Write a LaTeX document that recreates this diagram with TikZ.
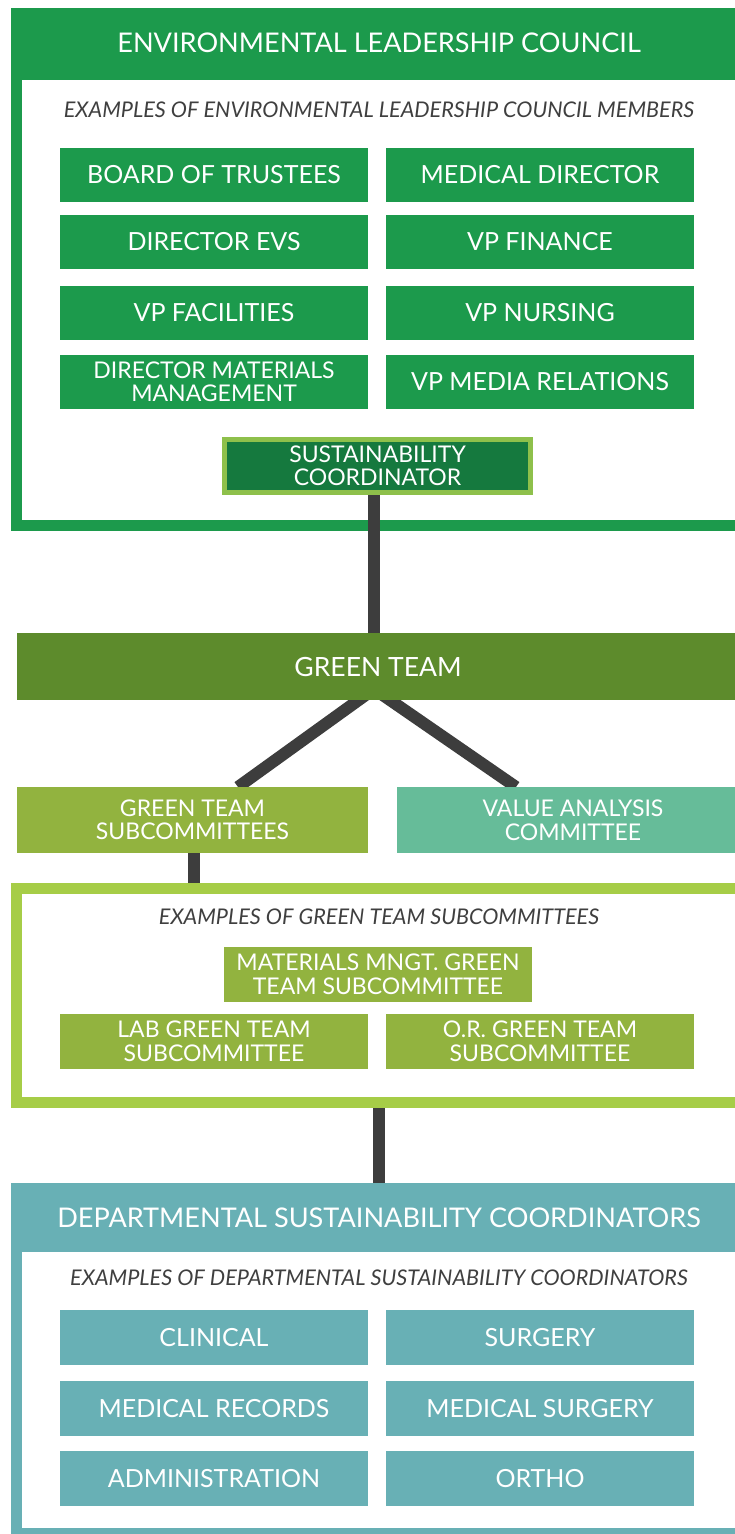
\documentclass[tikz,border=0pt]{standalone}
\usepackage{fontspec}
\setmainfont{Lato}
\definecolor{elc}{HTML}{1C9A4C}
\definecolor{coordfill}{HTML}{15793E}
\definecolor{coordline}{HTML}{8EC04B}
\definecolor{gteam}{HTML}{5D8B2C}
\definecolor{olive}{HTML}{92B33F}
\definecolor{valc}{HTML}{66BC99}
\definecolor{frtwo}{HTML}{A6CD47}
\definecolor{teal}{HTML}{68B0B5}
\definecolor{conn}{HTML}{3D3D3D}
\definecolor{itxt}{HTML}{3F3F3F}
\pgfdeclarelayer{back}
\pgfdeclarelayer{mid}
\pgfsetlayers{back,mid,main}
\begin{document}
\begin{tikzpicture}[x=1pt,y=-1pt,
  frame/.style={draw=#1, line width=11pt, inner sep=0pt, outer sep=0pt, fill=white},
  mbox/.style={fill=#1, text=white, minimum width=308pt, minimum height=54pt,
    inner sep=0pt, outer sep=0pt, align=center, font=\fontsize{25}{24}\selectfont},
  mtwo/.style={mbox=#1, font=\fontsize{23}{23.5}\selectfont},
  title/.style={text=white, inner sep=0pt, font=\fontsize{27.1}{30}\selectfont},
  subt/.style={text=itxt, inner sep=0pt, font=\fontsize{21.6}{24}\selectfont\itshape},
  link/.style={draw=conn, line width=12pt}
]
\useasboundingbox (0,0) rectangle (735,1534);

% ---------- frames ----------
\begin{pgfonlayer}{back}
\fill[white] (0,0) rectangle (735,1534);
\node[frame=elc, minimum width=763.5pt, minimum height=512pt, anchor=north west] (f1) at (16.5,13.5) {};
\fill[elc] (11,8) rectangle (780,80);
\node[frame=frtwo, minimum width=763.5pt, minimum height=214pt, anchor=north west] (f2) at (16.5,888.5) {};
\node[frame=teal, minimum width=763.5pt, minimum height=345pt, anchor=north west] (f3) at (16.5,1188.5) {};
\fill[teal] (11,1183) rectangle (780,1252);
\end{pgfonlayer}

% ---------- top council ----------
\node[title] (t1) at (379,43) {ENVIRONMENTAL LEADERSHIP COUNCIL};
\node[subt] (s1) at (379,110) {EXAMPLES OF ENVIRONMENTAL LEADERSHIP COUNCIL MEMBERS};

\node[mbox=elc] (bt) at (214,174.5) {BOARD OF TRUSTEES};
\node[mbox=elc] (md) at (540,174.5) {MEDICAL DIRECTOR};
\node[mbox=elc] (de) at (214,241.5) {DIRECTOR EVS};
\node[mbox=elc] (vf) at (540,241.5) {VP FINANCE};
\node[mbox=elc] (vfac) at (214,312.5) {VP FACILITIES};
\node[mbox=elc] (vn) at (540,312.5) {VP NURSING};
\node[mtwo=elc] (dm) at (214,382) {DIRECTOR MATERIALS\\MANAGEMENT};
\node[mbox=elc] (vm) at (540,382) {VP MEDIA RELATIONS};

\node[fill=coordfill, draw=coordline, line width=5pt, minimum width=306pt, minimum height=53pt,
  inner sep=0pt, outer sep=0pt, text=white, align=center, font=\fontsize{23}{22.5}\selectfont]
  (sc) at (377.5,466) {SUSTAINABILITY\\COORDINATOR};

% ---------- green team ----------
\node[fill=gteam, minimum width=763pt, minimum height=67pt, inner sep=0pt, outer sep=0pt,
  anchor=north west] (gt) at (17,633) {};
\node[title, font=\fontsize{26.5}{30}\selectfont] (gtt) at (378,666.5) {GREEN TEAM};

\node[mtwo=olive, minimum width=351pt, minimum height=66pt] (gts) at (192.5,820)
  {GREEN TEAM\\SUBCOMMITTEES};
\node[fill=valc, minimum width=383pt, minimum height=66pt, inner sep=0pt, outer sep=0pt,
  anchor=north west] (va) at (397,787) {};
\node[text=white, align=center, inner sep=0pt, font=\fontsize{23}{23.5}\selectfont] (vat) at (573,820)
  {VALUE ANALYSIS\\COMMITTEE};

% ---------- subcommittees ----------
\node[subt] (s2) at (379,917) {EXAMPLES OF GREEN TEAM SUBCOMMITTEES};
\node[mtwo=olive, minimum height=55pt] (mm) at (378,974.5) {MATERIALS MNGT. GREEN\\TEAM SUBCOMMITTEE};
\node[mtwo=olive, minimum height=55pt] (lab) at (214,1041.5) {LAB GREEN TEAM\\SUBCOMMITTEE};
\node[mtwo=olive, minimum height=55pt] (orr) at (540,1041.5) {O.R. GREEN TEAM\\SUBCOMMITTEE};

% ---------- departmental ----------
\node[title] (t3) at (379,1218) {DEPARTMENTAL SUSTAINABILITY COORDINATORS};
\node[subt] (s3) at (379,1278) {EXAMPLES OF DEPARTMENTAL SUSTAINABILITY COORDINATORS};
\node[mbox=teal, minimum height=55pt] (cl) at (214,1337.5) {CLINICAL};
\node[mbox=teal, minimum height=55pt] (su) at (540,1337.5) {SURGERY};
\node[mbox=teal, minimum height=55pt] (mr) at (214,1408.5) {MEDICAL RECORDS};
\node[mbox=teal, minimum height=55pt] (ms) at (540,1408.5) {MEDICAL SURGERY};
\node[mbox=teal, minimum height=55pt] (ad) at (214,1478.5) {ADMINISTRATION};
\node[mbox=teal, minimum height=55pt] (or) at (540,1478.5) {ORTHO};

% ---------- connectors ----------
\coordinate (apex) at (374,689);
\coordinate (gtsin) at (238,787);
\coordinate (vain) at (516,787);
\coordinate (f2top) at (194,883);
\coordinate (f2bot) at (378.5,1108);
\coordinate (f3top) at (378.5,1183);
\begin{pgfonlayer}{mid}
\draw[link] ([xshift=-3.5pt]sc.south) -- ([xshift=-3.5pt]sc.south |- gt.north);
\draw[link] (apex) -- (gtsin);
\draw[link] (apex) -- (vain);
\draw[link] (gts.south -| f2top) -- (f2top);
\draw[link] (f2bot) -- (f3top);
\end{pgfonlayer}
\end{tikzpicture}
\end{document}
